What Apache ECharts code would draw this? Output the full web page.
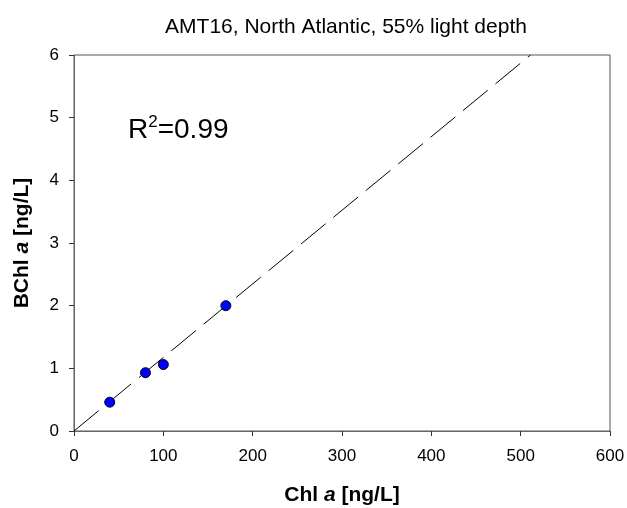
<!DOCTYPE html>
<html>
<head>
<meta charset="utf-8">
<script src="https://cdn.jsdelivr.net/npm/echarts@6/dist/echarts.min.js"></script>
<style>
    html, body { margin: 0; padding: 0; background: #fff; }
    #chart { width: 627px; height: 508px; }
</style>
</head>
<body>
<div id="chart"></div>
<script>
    // measured samples, Chl a vs BChl a
    var chlA = [40, 80, 100, 170];
    var bchlA = [0.46, 0.93, 1.06, 2.0];
    // regression line ends
    var fitX = [0, 511];
    var fitY = [0, 6];
    var xTicks = [0, 100, 200, 300, 400, 500, 600];
    var yTicks = [0, 1, 2, 3, 4, 5, 6];

    var points = chlA.map(function (x, i) { return [x, bchlA[i]]; });
    var fitLine = fitX.map(function (x, i) { return [x, fitY[i]]; });

    var font = 'Liberation Sans, Arial, sans-serif';
    var nameRich = {
        b: { fontSize: 21, fontWeight: 'bold', color: '#000', fontFamily: font },
        i: { fontSize: 21, fontWeight: 'bold', fontStyle: 'italic', color: '#000', fontFamily: font }
    };
    var chart = echarts.init(document.getElementById('chart'));
    chart.setOption({
        animation: false,
        textStyle: { fontFamily: font },
        title: {
            text: 'AMT16, North Atlantic, 55% light depth',
            left: 341,
            textAlign: 'center',
            top: 12,
            textStyle: { fontSize: 21, fontWeight: 'normal', color: '#000', fontFamily: font }
        },
        grid: {
            left: 74, right: 17, top: 55, bottom: 77,
            outerBoundsMode: 'none',
            containLabel: false,
            show: true,
            borderColor: '#555',
            borderWidth: 1
        },
        xAxis: {
            type: 'value',
            min: xTicks[0],
            max: xTicks[xTicks.length - 1],
            interval: 100,
            name: '{b|Chl }{i|a}{b| [ng/L]}',
            nameLocation: 'middle',
            nameGap: 54,
            nameTextStyle: { rich: nameRich },
            axisLine: { show: true, lineStyle: { color: '#666', width: 1 } },
            axisTick: { show: true, inside: false, length: 5, lineStyle: { color: '#333' } },
            axisLabel: { fontSize: 17, color: '#000', margin: 17 },
            splitLine: { show: false }
        },
        yAxis: {
            type: 'value',
            min: yTicks[0],
            max: yTicks[yTicks.length - 1],
            interval: 1,
            name: '{b|BChl }{i|a}{b| [ng/L]}',
            nameLocation: 'middle',
            nameGap: 41,
            nameTextStyle: { rich: nameRich },
            axisLine: { show: true, lineStyle: { color: '#666', width: 1 } },
            axisTick: { show: true, inside: false, length: 5, lineStyle: { color: '#333' } },
            axisLabel: { fontSize: 17, color: '#000', margin: 15 },
            splitLine: { show: false }
        },
        graphic: [{
            type: 'text',
            left: 128,
            top: 114,
            style: {
                text: '{r|R}{s|2}{r|=0.99}',
                rich: {
                    r: { fontSize: 28, fill: '#000', fontFamily: font, verticalAlign: 'bottom' },
                    s: { fontSize: 17, fill: '#000', fontFamily: font, verticalAlign: 'top', padding: [0, 0, 13, 0] }
                }
            }
        }],
        series: [
            {
                type: 'line',
                data: fitLine,
                symbol: 'none',
                silent: true,
                lineStyle: { color: '#000', width: 1, type: [32, 10] },
                z: 2
            },
            {
                type: 'scatter',
                data: points,
                symbol: 'circle',
                symbolSize: 10,
                itemStyle: { color: '#0000ff', borderColor: '#000', borderWidth: 1, opacity: 1 },
                z: 3
            }
        ]
    });
</script>
</body>
</html>
